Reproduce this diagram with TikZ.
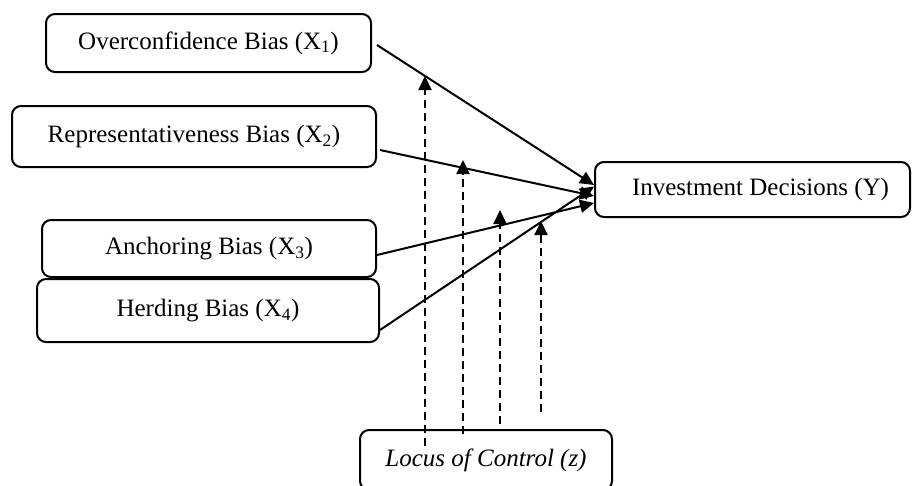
\documentclass[tikz,border=0pt]{standalone}
\usepackage{fontspec}
\setmainfont{Liberation Serif}
\usetikzlibrary{arrows.meta}
\begin{document}
\begin{tikzpicture}[x=1pt,y=-1pt,
  box/.style={draw,line width=2pt,rounded corners=9pt,inner sep=0pt,font=\fontsize{25}{30}\selectfont},
  arr/.style={line width=2pt,-{Triangle[length=14pt,width=13pt]}},
  darr/.style={line width=2pt,dash pattern=on 8pt off 5pt,-{Triangle[length=14pt,width=13pt]}}]
\useasboundingbox (0,0) rectangle (916,485);
\node[box,minimum width=325pt,minimum height=58pt] (x1) at (208.5,43) {Overconfidence Bias (X\textsubscript{1})};
\node[box,minimum width=364pt,minimum height=61pt] (x2) at (194,136.5) {Representativeness Bias (X\textsubscript{2})};
\node[box,minimum width=334pt,minimum height=57pt] (x3) at (209,248.5) {Anchoring Bias (X\textsubscript{3})};
\node[box,minimum width=342pt,minimum height=63pt] (x4) at (208,310.5) {Herding Bias (X\textsubscript{4})};
\node[box,minimum width=315pt,minimum height=55pt] (y) at (752.5,189.5) {\hspace*{16pt}Investment Decisions (Y)};
\node[box,minimum width=252pt,minimum height=60pt] (z) at (486,460) {\itshape Locus of Control (z)};
\draw[arr] ([xshift=5pt,yshift=-2pt]x1.east) -- ([yshift=4.5pt]y.west);
\draw[arr] ([xshift=3pt,yshift=-13.5pt]x2.east) -- ([yshift=-6.5pt]y.west);
\draw[arr] ([yshift=-6.5pt]x3.east) -- ([yshift=-13.5pt]y.west);
\draw[arr] ([yshift=-19.5pt]x4.east) -- ([yshift=3pt]y.west);
\coordinate (m1) at (425,76);
\coordinate (m2) at (463,160);
\coordinate (m3) at (500,210);
\coordinate (m4) at (541,221);
\draw[darr] ([xshift=-61pt,yshift=-17pt]z.north) -- (m1);
\draw[darr] ([xshift=-23pt,yshift=-5pt]z.north) -- (m2);
\draw[darr] ([xshift=14pt,yshift=5pt]z.north) -- (m3);
\draw[darr] ([xshift=55pt,yshift=17pt]z.north) -- (m4);
\end{tikzpicture}
\end{document}
